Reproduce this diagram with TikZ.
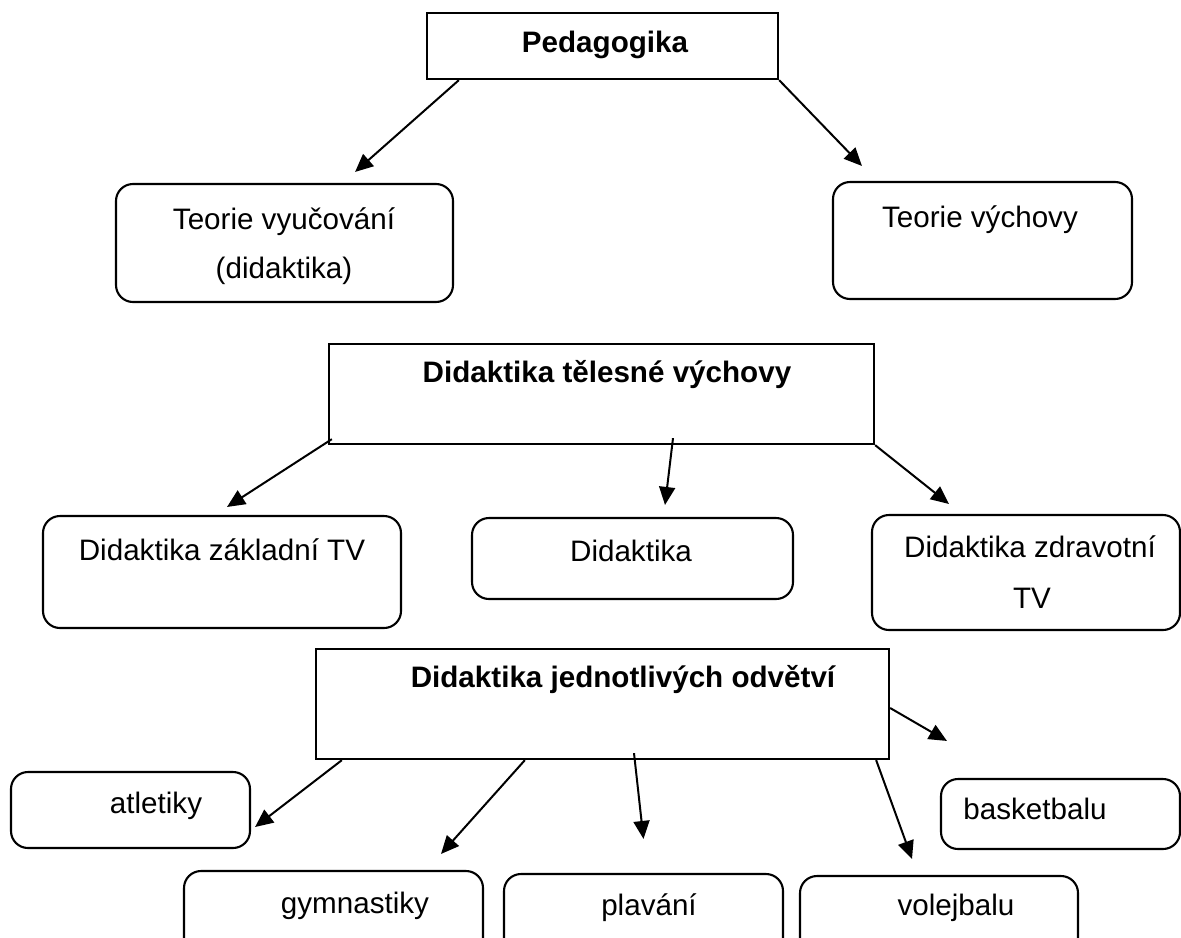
\documentclass[tikz,border=0pt]{standalone}
\usepackage{fontspec}
\setmainfont{Liberation Sans}
\usetikzlibrary{positioning, arrows.meta, calc, fit}

\begin{document}
\begin{tikzpicture}[
    x=0.5pt, y=-0.5pt,
    every node/.style={font=\fontsize{14.8pt}{17pt}\selectfont},
    sqbox/.style={draw, line width=1.15pt, inner sep=0pt},
    rbox/.style={draw, line width=1.05pt, rounded corners=8.5pt, inner sep=0pt},
    lbl/.style={anchor=base, inner sep=0pt},
    bold/.style={font=\fontsize{14.8pt}{17pt}\selectfont\bfseries},
    arr/.style={-{Triangle[length=9pt, width=8pt]}, line width=1pt}
]
\useasboundingbox (0,0) rectangle (1181,937);
\clip (0,0) rectangle (1181,937);

% Pedagogika
\node[sqbox, fit={(427,13) (778,79)}] (ped) {};
\node[lbl, bold] (ped-t) at (605,52) {Pedagogika};

\node[rbox, fit={(116,184) (453,302)}] (tvu) {};
\node[lbl] (tvu-t1) at (284,229) {Teorie vyučování};
\node[lbl] (tvu-t2) at (284,278) {(didaktika)};
\node[rbox, fit={(833,182) (1132,299)}] (tvy) {};
\node[lbl] (tvy-t) at (980,227) {Teorie výchovy};

\coordinate (tvu-in) at ($(tvu.north east)+(-99,-11)$);
\coordinate (tvy-in) at ($(tvy.north west)+(30,-15)$);
\draw[arr] ($(ped.south west)+(33,0)$) -- (tvu-in);
\draw[arr] (ped.south east) -- (tvy-in);

% Didaktika TV
\node[sqbox, fit={(329,344) (874,444)}] (dtv) {};
\node[lbl, bold] (dtv-t) at (607,382) {Didaktika tělesné výchovy};

\node[rbox, fit={(43,516) (401,628)}] (dzt) {};
\node[lbl] (dzt-t) at (222,560) {Didaktika základní TV};
\node[rbox, fit={(472,518) (793,599)}] (did) {};
\node[lbl] (did-t) at (631,561) {Didaktika};
\node[rbox, fit={(872,515) (1180,630)}] (zdr) {};
\node[lbl] (zdr-t1) at (1030,557) {Didaktika zdravotní};
\node[lbl] (zdr-t2) at (1032,608) {TV};

\coordinate (dzt-in) at ($(dzt.north)+(5,-8)$);
\coordinate (did-in) at ($(did.north)+(32.5,-12)$);
\coordinate (zdr-in) at ($(zdr.north west)+(78,-10)$);
\draw[arr] ($(dtv.south west)+(4,-6)$) -- (dzt-in);
\draw[arr] ($(dtv.south)+(71.5,-7)$) -- (did-in);
\draw[arr] (dtv.south east) -- (zdr-in);

% jednotliva odvetvi
\node[sqbox, fit={(316,649) (889,759)}] (djo) {};
\node[lbl, bold] (djo-t) at (623,687) {Didaktika jednotlivých odvětví};

\node[rbox, fit={(11,772) (250,848)}] (atl) {};
\node[lbl] (atl-t) at (156,813) {atletiky};
\node[rbox, fit={(184,871) (483,960)}] (gym) {};
\node[lbl] (gym-t) at (355,913) {gymnastiky};
\node[rbox, fit={(504,874) (783,960)}] (pla) {};
\node[lbl] (pla-t) at (649,915) {plavání};
\node[rbox, fit={(800,876) (1078,960)}] (vol) {};
\node[lbl] (vol-t) at (956,915) {volejbalu};
\node[rbox, fit={(941,779) (1180,849)}] (bas) {};
\node[lbl] (bas-t) at (1035,819) {basketbalu};

\coordinate (atl-in) at ($(atl.east)+(4,17)$);
\coordinate (gym-in) at ($(gym.north)+(107.5,-16)$);
\coordinate (pla-in) at ($(pla.north)+(0,-34)$);
\coordinate (vol-in) at ($(vol.north)+(-27,-16)$);
\coordinate (bas-in) at ($(bas.north west)+(7,-37)$);
\draw[arr] ($(djo.south west)+(27,0)$) -- (atl-in);
\draw[arr] ($(djo.south west)+(210,0)$) -- (gym-in);
\draw[arr] ($(djo.south)+(31.5,-7)$) -- (pla-in);
\draw[arr] ($(djo.south east)+(-14,0)$) -- (vol-in);
\draw[arr] ($(djo.east)+(0,4)$) -- (bas-in);

\end{tikzpicture}
\end{document}
